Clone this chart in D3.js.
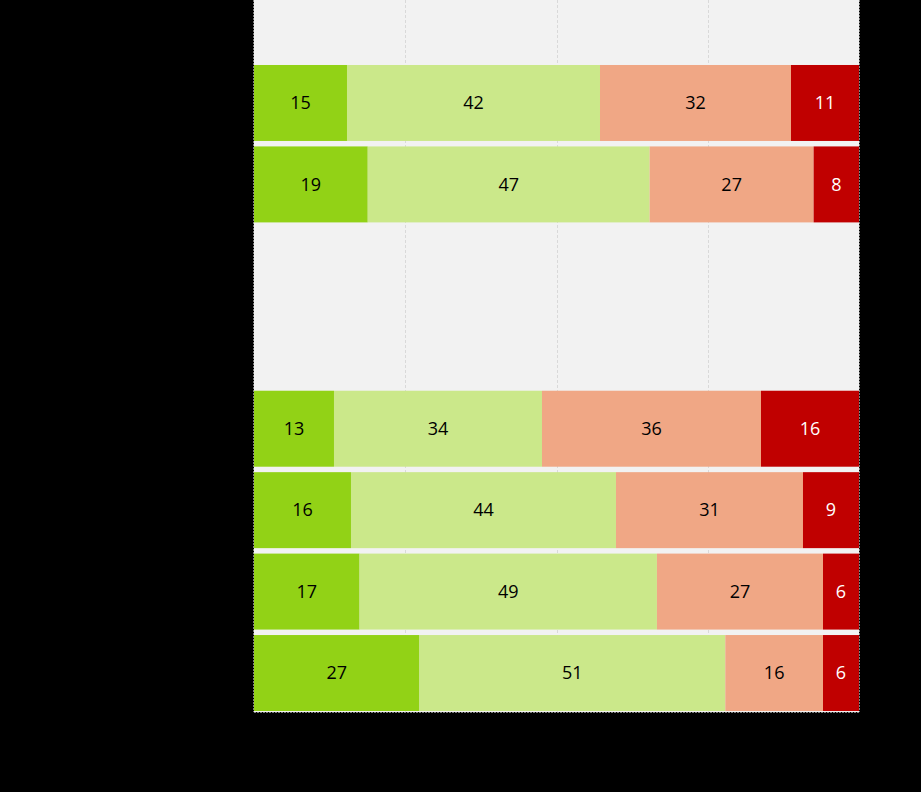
<!DOCTYPE html>
<html><head><meta charset="utf-8">
<script src="https://cdn.jsdelivr.net/npm/d3@7"></script>
<style>html,body{margin:0;padding:0;background:#000;}svg{display:block;}</style>
</head><body>
<script>
// Data (percent shares; labels show rounded values)
const categories = ["r1", "r2", "r3", "r4", "r5", "r6", "r7", "r8"];
const seriesNames = ["s1", "s2", "s3", "s4"];
const s1 = [15.37, 18.8, null, null, 13.22, 16.03, 17.45, 27.35];
const s2 = [41.82, 46.6, null, null, 34.38, 43.8, 49.15, 50.55];
const s3 = [31.57, 27.1, null, null, 36.2, 30.91, 27.45, 16.15];
const s4 = [11.24, 7.5, null, null, 16.2, 9.26, 5.95, 5.95];
const xTicks = [0, 25, 50, 75, 100];
const colors = ["#92d216", "#cbe88a", "#f0a785", "#c00000"];
const textColors = ["#000", "#000", "#000", "#fff"];

const W = 921, H = 792;
const plot = {left: 254, right: 859, top: 0, bottom: 712};

const svg = d3.select("body").append("svg").attr("width", W).attr("height", H);
svg.append("rect").attr("width", W).attr("height", H).attr("fill", "#000");
svg.append("rect").attr("x", plot.left).attr("y", plot.top)
  .attr("width", plot.right - plot.left).attr("height", plot.bottom - plot.top)
  .attr("fill", "#f2f2f2");

const x = d3.scaleLinear().domain([0, 100]).range([plot.left, plot.right]);
const y = d3.scaleBand().domain(categories).range([62.3, 713.7]).paddingInner(0.067).paddingOuter(0.033);

// gridlines
svg.append("g").selectAll("line").data(xTicks.slice(1, 4)).join("line")
  .attr("x1", d => Math.round(x(d)) + 0.5).attr("x2", d => Math.round(x(d)) + 0.5)
  .attr("y1", plot.top).attr("y2", plot.bottom)
  .attr("stroke", "#d9d9d9").attr("stroke-width", 1).attr("stroke-dasharray", "3,2");

// plot border dashed (left, right, bottom)
const border = svg.append("g").attr("stroke", "#808080").attr("stroke-width", 1).attr("stroke-dasharray", "2,1");
border.append("line").attr("x1", plot.left - 0.5).attr("x2", plot.left - 0.5).attr("y1", 0).attr("y2", plot.bottom);
border.append("line").attr("x1", plot.right + 0.5).attr("x2", plot.right + 0.5).attr("y1", 0).attr("y2", plot.bottom);
border.append("line").attr("x1", plot.left).attr("x2", plot.right).attr("y1", plot.bottom + 0.5).attr("y2", plot.bottom + 0.5);

const seriesVals = [s1, s2, s3, s4];
const rows = categories.map((c, i) => {
  const o = {cat: c};
  const tot = d3.sum(seriesVals, s => s[i] || 0);
  seriesNames.forEach((n, k) => { o[n] = tot ? (seriesVals[k][i] || 0) / tot * 100 : 0; o[n + "_raw"] = seriesVals[k][i]; });
  return o;
});
const stack = d3.stack().keys(seriesNames)(rows);

const g = svg.append("g");
stack.forEach((layer, k) => {
  const lg = g.append("g");
  layer.forEach((d, i) => {
    const raw = rows[i][seriesNames[k] + "_raw"];
    if (raw == null) return;
    lg.append("rect")
      .attr("x", x(d[0])).attr("width", x(d[1]) - x(d[0]))
      .attr("y", y(categories[i])).attr("height", y.bandwidth())
      .attr("fill", colors[k]);
    lg.append("text")
      .attr("x", (x(d[0]) + x(d[1])) / 2)
      .attr("y", y(categories[i]) + y.bandwidth() / 2)
      .attr("dy", "0.35em")
      .attr("text-anchor", "middle")
      .attr("font-family", "'Open Sans', sans-serif")
      .attr("font-size", 18)
      .attr("fill", textColors[k])
      .text(Math.round(raw));
  });
});
</script>
</body></html>
